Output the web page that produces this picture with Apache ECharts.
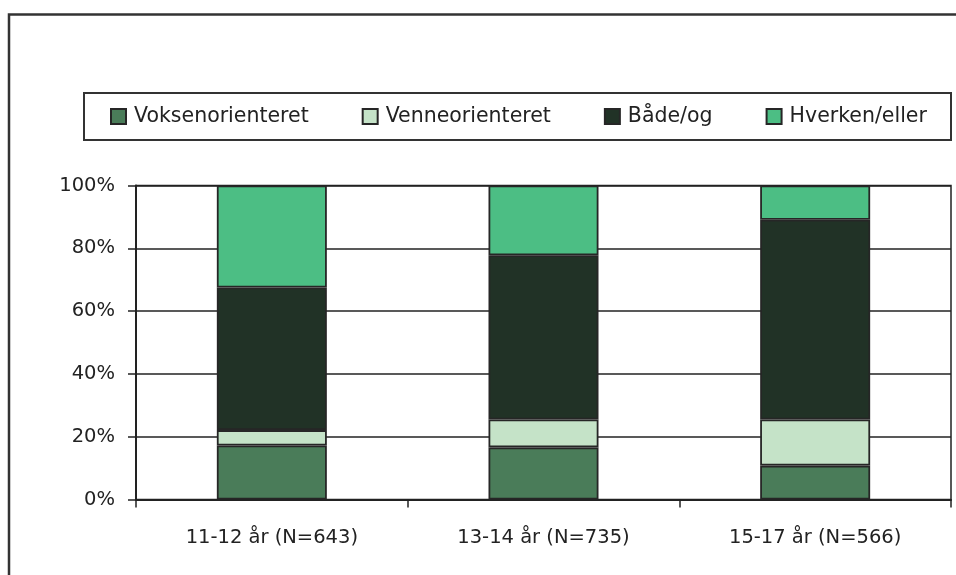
<!DOCTYPE html>
<html>
<head>
<meta charset="utf-8">
<script src="https://cdn.jsdelivr.net/npm/echarts@6/dist/echarts.min.js"></script>
<style>
  html, body { margin: 0; padding: 0; background: #fff; }
  #chart { width: 956px; height: 575px; }
</style>
</head>
<body>
<div id="chart"></div>
<script>
// data (percent of each age group)
const categories = ['11-12 år (N=643)', '13-14 år (N=735)', '15-17 år (N=566)']
const seriesNames = ['Voksenorienteret', 'Venneorienteret', 'Både/og', 'Hverken/eller']
const voksen = [17.2, 16.6, 10.8]
const venne = [4.9, 8.9, 14.7]
const baade = [45.4, 52.3, 63.6]
const hverken = [32.5, 22.2, 10.9]
const yTicks = [0, 20, 40, 60, 80, 100]

const colors = ['#4a7c59', '#c5e3c8', '#213226', '#4cbe84']
const font = 'DejaVu Sans, Verdana, sans-serif'

const chart = echarts.init(document.getElementById('chart'))

const makeSeries = (name, data, i) => ({
  name: name,
  type: 'bar',
  stack: 'total',
  barWidth: 110,
  data: data,
  itemStyle: {
    color: colors[i],
    borderColor: '#262626',
    borderWidth: 1.8
  }
})

const option = {
  animation: false,
  backgroundColor: '#fff',
  textStyle: { fontFamily: font },
  graphic: [
    // outer frame
    {
      type: 'rect',
      shape: { x: 9, y: 14.5, width: 980, height: 600 },
      style: { fill: 'none', stroke: '#333', lineWidth: 2.5 },
      z: 0
    },
    // legend box
    {
      type: 'rect',
      shape: { x: 84, y: 93, width: 867, height: 47 },
      style: { fill: 'none', stroke: '#333', lineWidth: 2 },
      z: 0
    }
  ],
  legend: {
    data: seriesNames,
    left: 105,
    top: 101,
    itemWidth: 15,
    itemHeight: 15,
    itemGap: 53,
    icon: 'rect',
    textStyle: { color: '#222', fontSize: 20.5, fontFamily: font, padding: [0, 0, 0, 3] },
    selectedMode: false
  },
  grid: {
    left: 136,
    right: 5,
    top: 185.5,
    bottom: 75.5,
    show: true,
    borderColor: '#222',
    borderWidth: 1.5
  },
  xAxis: {
    type: 'category',
    data: categories,
    boundaryGap: true,
    axisLine: { lineStyle: { color: '#222', width: 2 } },
    axisTick: { show: true, length: 8, lineStyle: { color: '#222', width: 1.5 } },
    axisLabel: { color: '#222', fontSize: 19.5, margin: 28, fontFamily: font }
  },
  yAxis: {
    type: 'value',
    min: yTicks[0],
    max: yTicks[yTicks.length - 1],
    interval: 20,
    axisLine: { show: true, lineStyle: { color: '#222', width: 2 } },
    axisTick: { show: true, length: 8, lineStyle: { color: '#222', width: 1.5 } },
    axisLabel: { color: '#222', fontSize: 19.5, margin: 21, formatter: '{value}%', fontFamily: font },
    splitLine: { show: true, lineStyle: { color: '#222', width: 1.5 } }
  },
  series: [
    makeSeries(seriesNames[0], voksen, 0),
    makeSeries(seriesNames[1], venne, 1),
    makeSeries(seriesNames[2], baade, 2),
    makeSeries(seriesNames[3], hverken, 3)
  ]
}

chart.setOption(option)
</script>
</body>
</html>
